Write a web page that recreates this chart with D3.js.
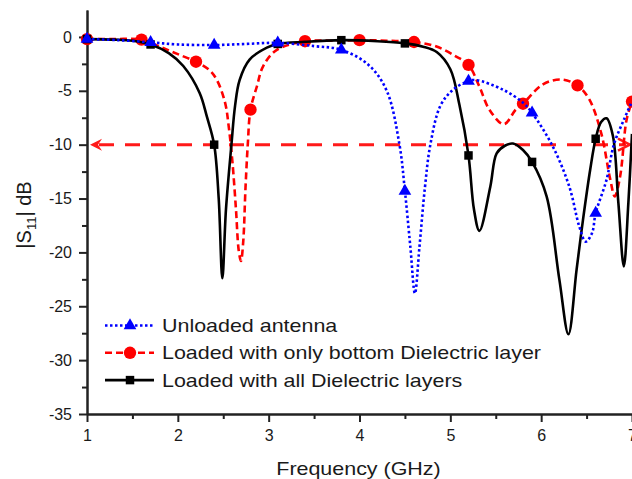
<!DOCTYPE html>
<html>
<head>
<meta charset="utf-8">
<script src="https://cdn.jsdelivr.net/npm/d3@7"></script>
<style>
  html, body { margin: 0; padding: 0; background: #fff; }
  svg { display: block; font-family: Arial, "Liberation Sans", sans-serif; }
</style>
</head>
<body>
<div id="chart"></div>
<script>
// |S11| vs frequency, three antenna configurations

// series values: [GHz, dB]
const unloaded = [
  [1.0,-0.2],[1.35,-0.3],[1.7,-0.5],[2.0,-0.7],[2.4,-0.75],[2.75,-0.65],[3.1,-0.55],
  [3.5,-0.85],[3.8,-1.2],[4.1,-2.6],[4.3,-5.0],[4.44,-10],[4.5,-14.3],[4.56,-19.5],
  [4.61,-23.8],[4.66,-19.5],[4.72,-14],[4.78,-10],[4.89,-6.4],[5.03,-4.9],[5.2,-4.1],
  [5.28,-4.0],[5.58,-4.9],[5.8,-6.1],[5.9,-7.05],[6.13,-10.2],[6.31,-13.9],[6.42,-17.6],
  [6.49,-19.0],[6.56,-18.2],[6.6,-16.35],[6.72,-13.25],[6.8,-10],[6.91,-7.7],[7.0,-6.0]
];
const bottomLayer = [
  [1.0,-0.2],[1.3,-0.2],[1.6,-0.25],[1.8,-0.9],[2.0,-1.6],[2.2,-2.3],[2.35,-3.1],[2.43,-4.0],
  [2.52,-6.1],[2.56,-8.3],[2.6,-11.5],[2.64,-16],[2.67,-19.8],[2.695,-20.8],[2.72,-19],
  [2.745,-14],[2.77,-10],[2.8,-6.75],[2.87,-4.6],[2.94,-2.7],[3.09,-1.2],[3.4,-0.4],
  [3.7,-0.35],[4.0,-0.3],[4.3,-0.35],[4.6,-0.47],[4.84,-0.87],[5.06,-1.8],[5.2,-2.6],
  [5.32,-4.6],[5.43,-6.75],[5.59,-8.1],[5.72,-6.75],[5.8,-6.2],[6.02,-4.4],[6.22,-3.95],
  [6.4,-4.5],[6.53,-5.8],[6.66,-8.9],[6.76,-13.2],[6.81,-14.8],[6.87,-12.9],[6.94,-7.7],[7.0,-6.0]
];
const allLayers = [
  [1.0,-0.2],[1.3,-0.25],[1.5,-0.35],[1.7,-0.7],[1.9,-1.5],[2.06,-2.7],[2.24,-5.2],[2.32,-7.4],
  [2.4,-10],[2.45,-15],[2.49,-22.4],[2.53,-16],[2.59,-10],[2.63,-6.4],[2.68,-4.0],[2.79,-2.1],
  [2.98,-1.0],[3.1,-0.65],[3.4,-0.45],[3.8,-0.3],[4.2,-0.4],[4.5,-0.6],[4.7,-0.9],[4.85,-1.4],
  [5.0,-3.0],[5.1,-6.3],[5.2,-11],[5.26,-16],[5.32,-18.0],[5.44,-13.9],[5.51,-10.8],[5.6,-10.1],
  [5.69,-9.9],[5.8,-10.5],[5.9,-11.6],[6.06,-14.8],[6.2,-22.5],[6.3,-27.6],[6.39,-21.6],
  [6.46,-17],[6.54,-12.3],[6.6,-9.45],[6.66,-7.9],[6.72,-7.55],[6.79,-9.2],[6.85,-15.4],
  [6.91,-21.3],[6.96,-15.4],[7.0,-9]
];

// frequencies where the symbols sit
const unloadedMarks = [1.0,1.7,2.4,3.1,3.8,4.5,5.2,5.9,6.6];
const bottomMarks = [1.0,1.6,2.2,2.8,3.4,4.0,4.6,5.2,5.8,6.4,7.0];
const allMarks = [1.0,1.7,2.4,3.1,3.8,4.5,5.2,5.9,6.6];

const legendLabels = [
  'Unloaded antenna',
  'Loaded with only bottom Dielectric layer',
  'Loaded with all Dielectric layers'
];

const xMajor = [1,2,3,4,5,6,7];
const xMinor = [1.5,2.5,3.5,4.5,5.5,6.5];
const yMajor = [0,-5,-10,-15,-20,-25,-30,-35];
const yMinor = [2.5,-2.5,-7.5,-12.5,-17.5,-22.5,-27.5,-32.5];
const bandLevel = -10;

const W = 632, H = 479;
const svg = d3.select('#chart').append('svg')
  .attr('width', W).attr('height', H)
  .attr('viewBox', `0 0 ${W} ${H}`);

const x = d3.scaleLinear().domain([1, 7]).range([87, 632]);
const y = d3.scaleLinear().domain([-35, 2.5]).range([414, 10]);

// stretched text helper (the source picture is wider than its fonts)
function stretchText(parent, px, py, str, size, sx, anchor) {
  const g = parent.append('g').attr('transform', `translate(${px},${py}) scale(${sx},1)`);
  return g.append('text')
    .attr('font-size', size)
    .attr('text-anchor', anchor || 'start')
    .attr('fill', '#1a1a1a')
    .text(str);
}

// axes
const axisColor = '#222';
function styleAxis(sel) {
  sel.select('.domain').attr('stroke', axisColor).attr('stroke-width', 2);
  sel.selectAll('.tick line').attr('stroke', axisColor).attr('stroke-width', 2);
  sel.selectAll('.tick text').attr('fill', '#1a1a1a').attr('font-size', 16)
    .attr('font-family', 'Arial, "Liberation Sans", sans-serif');
}

svg.append('g').attr('transform', `translate(0,${y(-35)})`)
  .call(d3.axisBottom(x).tickValues(xMinor).tickSize(5).tickSizeOuter(0).tickFormat(''))
  .call(styleAxis);
svg.append('g').attr('transform', `translate(0,${y(-35)})`)
  .call(d3.axisBottom(x).tickValues(xMajor).tickSize(8).tickSizeOuter(0).tickPadding(8)
    .tickFormat(d => String(d)))
  .call(styleAxis);

svg.append('g').attr('transform', `translate(${x(1)},0)`)
  .call(d3.axisLeft(y).tickValues(yMinor.filter(v => v < 2.5)).tickSize(5).tickSizeOuter(0).tickFormat(''))
  .call(styleAxis);
svg.append('g').attr('transform', `translate(${x(1)},0)`)
  .call(d3.axisLeft(y).tickValues(yMajor).tickSize(8).tickSizeOuter(0).tickPadding(7)
    .tickFormat(d => String(d)))
  .call(styleAxis);

// axis titles
stretchText(svg, (x(1) + x(7)) / 2 - 1, 475, 'Frequency (GHz)', 18.5, 1.16, 'middle');

const yt = svg.append('text')
  .attr('transform', `translate(31,${(y(-35) + y(2.5)) / 2 + 3}) rotate(-90)`)
  .attr('text-anchor', 'middle')
  .attr('font-size', 20)
  .attr('fill', '#1a1a1a');
yt.append('tspan').text('|S');
yt.append('tspan').attr('font-size', 13).attr('dy', 5).text('11');
yt.append('tspan').attr('dy', -5).text('| dB');

// -10 dB reference arrow
const ay = y(bandLevel);
const arrowG = svg.append('g');
arrowG.append('line')
  .attr('x1', x(1) + 12).attr('x2', x(7) - 6)
  .attr('y1', ay).attr('y2', ay)
  .attr('stroke', '#ff1a1a').attr('stroke-width', 3)
  .attr('stroke-dasharray', '15,11');
arrowG.append('path')
  .attr('d', `M${x(1) + 3},${ay} L${x(1) + 15},${ay - 6} L${x(1) + 11},${ay} L${x(1) + 15},${ay + 6} Z`)
  .attr('fill', '#ff1a1a');
arrowG.append('path')
  .attr('d', `M${x(7) - 14},${ay - 6} L${x(7) - 2},${ay} L${x(7) - 14},${ay + 6}`)
  .attr('fill', 'none').attr('stroke', '#ff1a1a').attr('stroke-width', 2.5);

// series definitions
const series = [
  { name: legendLabels[1], data: bottomLayer, marks: bottomMarks, color: '#ff0000',
    dash: '7,4', symbol: d3.symbolCircle, size: 120 },
  { name: legendLabels[2], data: allLayers, marks: allMarks, color: '#000000',
    dash: null, symbol: d3.symbolSquare, size: 72 },
  { name: legendLabels[0], data: unloaded, marks: unloadedMarks, color: '#0000ff',
    dash: '2.5,2.5', symbol: d3.symbolTriangle, size: 70 }
];

const line = d3.line()
  .x(d => x(d[0]))
  .y(d => y(d[1]))
  .curve(d3.curveCatmullRom.alpha(0.5));

series.forEach(s => {
  svg.append('path')
    .datum(s.data)
    .attr('d', line)
    .attr('fill', 'none')
    .attr('stroke', s.color)
    .attr('stroke-width', 2.6)
    .attr('stroke-dasharray', s.dash)
    .attr('stroke-linejoin', 'round');

  const pts = s.marks.map(f => s.data.find(d => Math.abs(d[0] - f) < 1e-9));
  svg.append('g').selectAll('path')
    .data(pts)
    .enter().append('path')
    .attr('d', d3.symbol().type(s.symbol).size(s.size))
    .attr('transform', d => `translate(${x(d[0])},${y(d[1])})`)
    .attr('fill', s.color);
});

// legend
const legendRows = [
  { label: legendLabels[0], s: series[2] },
  { label: legendLabels[1], s: series[0] },
  { label: legendLabels[2], s: series[1] }
];
const lg = svg.append('g');
legendRows.forEach((r, i) => {
  const ly = 325.5 + i * 27.3;
  lg.append('line')
    .attr('x1', 105).attr('x2', 154).attr('y1', ly).attr('y2', ly)
    .attr('stroke', r.s.color).attr('stroke-width', 2.6)
    .attr('stroke-dasharray', r.s.dash);
  lg.append('path')
    .attr('d', d3.symbol().type(r.s.symbol).size(r.s.size)())
    .attr('transform', `translate(130,${ly})`)
    .attr('fill', r.s.color);
  stretchText(lg, 162, ly + 6.6, r.label, 18.5, 1.16);
});
</script>
</body>
</html>
